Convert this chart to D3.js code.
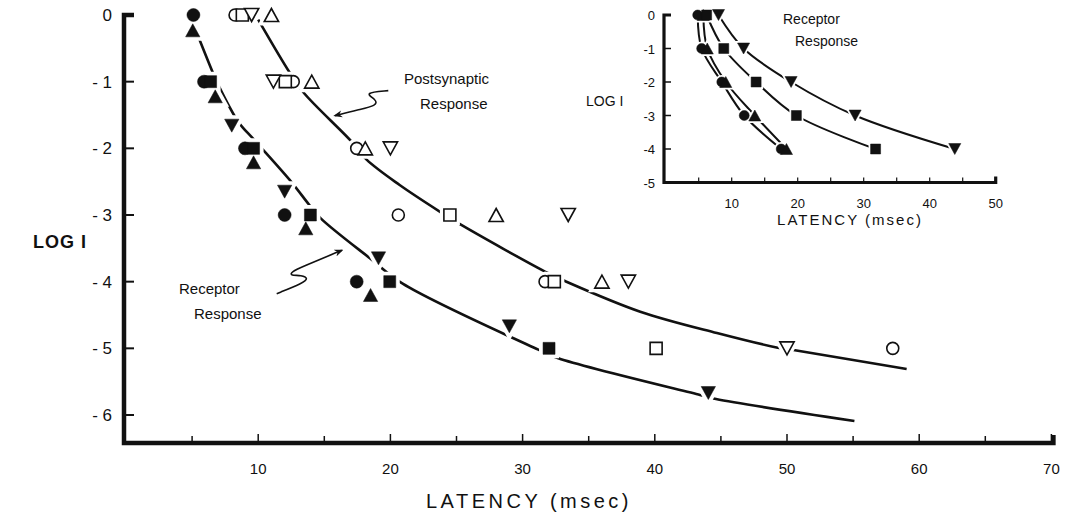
<!DOCTYPE html>
<html>
<head>
<meta charset="utf-8">
<script src="https://cdn.jsdelivr.net/npm/d3@7"></script>
<style>
  body { margin: 0; background: #fff; }
  text { font-family: "Liberation Sans", Arial, sans-serif; fill: #111; }
</style>
</head>
<body>
<div id="chart"></div>
<script>
// ---- main plot data: [latency msec, log I] ----
var recCircle = [[5.1, 0], [5.9, -1], [9.0, -2], [12.0, -3], [17.45, -4]];
var recSquare = [[6.4, -1], [9.65, -2], [13.95, -3], [19.95, -4], [32.0, -5]];
var recTriUp = [[5.05, -0.23], [6.75, -1.22], [9.65, -2.21], [13.6, -3.2], [18.5, -4.2]];
var recTriDown = [[8.0, -1.66], [12.0, -2.65], [19.1, -3.65], [29.0, -4.67], [44.05, -5.67]];

var postCircle = [[8.25, 0], [12.65, -1], [17.45, -2], [20.6, -3], [31.7, -4], [58.0, -5]];
var postSquare = [[8.8, 0], [12.05, -1], [24.5, -3], [32.4, -4], [40.1, -5]];
var postTriUp = [[11.0, 0], [14.05, -1], [18.1, -2], [28.0, -3], [36.0, -4]];
var postTriDown = [[9.5, 0], [11.15, -1], [20.0, -2], [33.45, -3], [38.0, -4], [50.0, -5]];

// fitted curves
var postCurve = [[10.0, -0.07], [12.4, -0.87], [13.46, -1.17], [17.07, -1.9], [18.2, -2.17], [20.7, -2.55],
  [23.9, -2.97], [25.2, -3.13], [31.9, -3.87], [33.2, -3.99], [38.9, -4.45], [44.7, -4.77],
  [49.3, -4.99], [50.6, -5.03], [59.05, -5.31]];
var recCurve = [[5.54, -0.36], [6.6, -0.88], [6.91, -1.02], [8.49, -1.6], [9.68, -1.87], [12.53, -2.51],
  [13.87, -2.85], [14.73, -3.05], [18.59, -3.67], [20.93, -4.03], [31.19, -5.02], [32.7, -5.15],
  [43.42, -5.7], [44.63, -5.76], [55.1, -6.09]];

// squiggle arrows
var postArrow = [[19.84, -1.135], [17.95, -1.165], [18.96, -1.27], [18.96, -1.36], [17.57, -1.42], [15.81, -1.51]];
var recArrow = [[11.4, -4.18], [13.41, -4.02], [13.79, -3.95], [13.29, -3.9], [12.41, -3.91], [12.53, -3.85],
  [13.29, -3.78], [16.32, -3.53]];

var yTicks = [0, -1, -2, -3, -4, -5, -6];
var xTicks = [5, 10, 15, 20, 25, 30, 35, 40, 45, 50, 55, 60, 65, 70];
var xLabels = [10, 20, 30, 40, 50, 60, 70];

// ---- inset data ----
var inCircle = [[4.85, 0], [5.45, -1], [8.5, -2], [11.9, -3], [17.5, -4]];
var inTriUp = [[5.7, 0], [6.3, -1], [9.1, -2], [13.5, -3], [18.3, -4]];
var inSquare = [[6.2, 0], [8.8, -1], [13.7, -2], [19.8, -3], [31.8, -4]];
var inTriDown = [[8.0, 0], [11.8, -1], [19.0, -2], [28.7, -3], [43.8, -4]];
var inYTicks = [0, -1, -2, -3, -4, -5];
var inXTicks = [5, 10, 15, 20, 25, 30, 35, 40, 45, 50];
var inXLabels = [10, 20, 30, 40, 50];

var W = 1068, H = 515;
var svg = d3.select("#chart").append("svg").attr("width", W).attr("height", H);

svg.append("defs").append("marker")
  .attr("id", "arrow")
  .attr("viewBox", "0 0 10 10")
  .attr("refX", 8).attr("refY", 5)
  .attr("markerWidth", 9).attr("markerHeight", 9)
  .attr("markerUnits", "userSpaceOnUse")
  .attr("orient", "auto")
  .append("path").attr("d", "M0,1 L10,5 L0,9 L3,5 Z").attr("fill", "#111");

function symbolPath(shape, s) {
  var h = s / 2;
  if (shape == "circle") {
    return "M" + (-h) + ",0 A" + h + "," + h + " 0 1,0 " + h + ",0 A" + h + "," + h + " 0 1,0 " + (-h) + ",0 Z";
  }
  if (shape == "square") return "M" + (-h) + "," + (-h) + "h" + s + "v" + s + "h" + (-s) + "Z";
  if (shape == "up") return "M0," + (-h) + "L" + (h * 1.1) + "," + h + "L" + (-h * 1.1) + "," + h + "Z";
  return "M0," + h + "L" + (h * 1.1) + "," + (-h) + "L" + (-h * 1.1) + "," + (-h) + "Z";
}

// sets: [data, shape, size, filled]
function drawSets(g, sets, x, y, halo) {
  var haloG = g.append("g"), markG = g.append("g");
  sets.forEach(function (s) {
    var pos = function (d) { return "translate(" + x(d[0]) + "," + y(d[1]) + ")"; };
    haloG.selectAll(null).data(s[0]).enter().append("path")
      .attr("transform", pos).attr("d", symbolPath(s[1], s[2]))
      .attr("fill", "#fff").attr("stroke", "#fff").attr("stroke-width", halo);
    markG.selectAll(null).data(s[0]).enter().append("path")
      .attr("transform", pos).attr("d", symbolPath(s[1], s[2]))
      .attr("fill", s[3] ? "#111" : "#fff")
      .attr("stroke", "#111")
      .attr("stroke-width", s[3] ? 0.5 : 1.6);
  });
}

// ================= main chart =================
var x = d3.scaleLinear().domain([0, 70]).range([126, 1051.4]);
var y = d3.scaleLinear().domain([0, -6]).range([15, 415]);
var axisY = 443, axisX = 124;

var main = svg.append("g");

// axes
main.append("path")
  .attr("d", "M" + (axisX + 10) + "," + y(0) + "H" + axisX + "V" + axisY + "H" + (x(70) + 2) + "V" + (axisY - 8))
  .attr("fill", "none").attr("stroke", "#111").attr("stroke-width", 4.5)
  .attr("stroke-linejoin", "miter");

main.selectAll("line.ytick").data(yTicks).enter().append("line")
  .attr("x1", axisX).attr("x2", axisX + 10)
  .attr("y1", function (d) { return y(d); }).attr("y2", function (d) { return y(d); })
  .attr("stroke", "#111").attr("stroke-width", 2);

main.selectAll("text.ylab").data(yTicks).enter().append("text")
  .attr("x", axisX - 12).attr("y", function (d) { return y(d) + 6; })
  .attr("text-anchor", "end").style("font-size", "17px")
  .text(function (d) { return d == 0 ? "0" : "- " + Math.abs(d); });

main.selectAll("line.xtick").data(xTicks).enter().append("line")
  .attr("x1", function (d) { return x(d); }).attr("x2", function (d) { return x(d); })
  .attr("y1", axisY).attr("y2", function (d) { return d % 10 == 0 ? axisY - 9 : axisY - 7; })
  .attr("stroke", "#111").attr("stroke-width", 1.5);

main.selectAll("text.xlab").data(xLabels).enter().append("text")
  .attr("x", function (d) { return x(d); }).attr("y", axisY + 31)
  .attr("text-anchor", "middle").style("font-size", "15px")
  .text(function (d) { return d; });

main.append("text").attr("x", 529).attr("y", 508).attr("text-anchor", "middle")
  .style("font-size", "20px").style("letter-spacing", "3.5px")
  .text("LATENCY (msec)");

main.append("text").attr("x", 33).attr("y", 248)
  .style("font-size", "18px").style("font-weight", "bold").style("letter-spacing", "1px")
  .text("LOG I");

// curves
var line = d3.line().x(function (d) { return x(d[0]); }).y(function (d) { return y(d[1]); })
  .curve(d3.curveCatmullRom);
[postCurve, recCurve].forEach(function (c) {
  main.append("path").attr("d", line(c)).attr("fill", "none")
    .attr("stroke", "#111").attr("stroke-width", 2.6);
});

// markers
drawSets(main, [
  [postCircle, "circle", 12, false],
  [postSquare, "square", 12, false],
  [postTriUp, "up", 13, false],
  [postTriDown, "down", 13, false],
  [recCircle, "circle", 13, true],
  [recSquare, "square", 12, true],
  [recTriUp, "up", 13, true],
  [recTriDown, "down", 13, true]
], x, y, 8);

// annotations
var squiggle = d3.line().x(function (d) { return x(d[0]); }).y(function (d) { return y(d[1]); })
  .curve(d3.curveBasis);
[postArrow, recArrow].forEach(function (a) {
  main.append("path").attr("d", squiggle(a)).attr("fill", "none")
    .attr("stroke", "#111").attr("stroke-width", 1.6)
    .attr("marker-end", "url(#arrow)");
});

main.append("text").attr("x", 404).attr("y", 84).style("font-size", "15px").text("Postsynaptic");
main.append("text").attr("x", 420).attr("y", 109).style("font-size", "15px").text("Response");
main.append("text").attr("x", 179).attr("y", 294).style("font-size", "15px").text("Receptor");
main.append("text").attr("x", 194).attr("y", 319).style("font-size", "15px").text("Response");

// ================= inset =================
var ix = d3.scaleLinear().domain([0, 50]).range([665.7, 995.7]);
var iy = d3.scaleLinear().domain([0, -5]).range([15, 182.5]);
var inset = svg.append("g");
var iAxisX = 664;

inset.append("path")
  .attr("d", "M" + (iAxisX + 7) + "," + iy(0) + "H" + iAxisX + "V" + iy(-5) + "H" + ix(50) + "V" + (iy(-5) - 6))
  .attr("fill", "none").attr("stroke", "#111").attr("stroke-width", 3.2);

inset.selectAll("line.iyt").data(inYTicks).enter().append("line")
  .attr("x1", iAxisX).attr("x2", iAxisX + 7)
  .attr("y1", function (d) { return iy(d); }).attr("y2", function (d) { return iy(d); })
  .attr("stroke", "#111").attr("stroke-width", 1.5);

inset.selectAll("text.iyl").data(inYTicks).enter().append("text")
  .attr("x", iAxisX - 9).attr("y", function (d) { return iy(d) + 5; })
  .attr("text-anchor", "end").style("font-size", "13px")
  .text(function (d) { return d == 0 ? "0" : "-" + Math.abs(d); });

inset.selectAll("line.ixt").data(inXTicks).enter().append("line")
  .attr("x1", function (d) { return ix(d); }).attr("x2", function (d) { return ix(d); })
  .attr("y1", iy(-5)).attr("y2", iy(-5) - 5)
  .attr("stroke", "#111").attr("stroke-width", 1.2);

inset.selectAll("text.ixl").data(inXLabels).enter().append("text")
  .attr("x", function (d) { return ix(d); }).attr("y", 208)
  .attr("text-anchor", "middle").style("font-size", "13px")
  .text(function (d) { return d; });

inset.append("text").attr("x", 850).attr("y", 225).attr("text-anchor", "middle")
  .style("font-size", "15px").style("letter-spacing", "2px").text("LATENCY (msec)");
inset.append("text").attr("x", 586).attr("y", 106)
  .style("font-size", "14px").text("LOG I");
inset.append("text").attr("x", 783).attr("y", 24).style("font-size", "14px").text("Receptor");
inset.append("text").attr("x", 795).attr("y", 46).style("font-size", "14px").text("Response");

var iline = d3.line().x(function (d) { return ix(d[0]); }).y(function (d) { return iy(d[1]); })
  .curve(d3.curveCatmullRom);
[inCircle, inTriUp, inSquare, inTriDown].forEach(function (s) {
  inset.append("path").attr("d", iline(s)).attr("fill", "none")
    .attr("stroke", "#111").attr("stroke-width", 2);
});
drawSets(inset, [
  [inCircle, "circle", 10, true],
  [inTriUp, "up", 11, true],
  [inSquare, "square", 10, true],
  [inTriDown, "down", 11, true]
], ix, iy, 4);
</script>
</body>
</html>
